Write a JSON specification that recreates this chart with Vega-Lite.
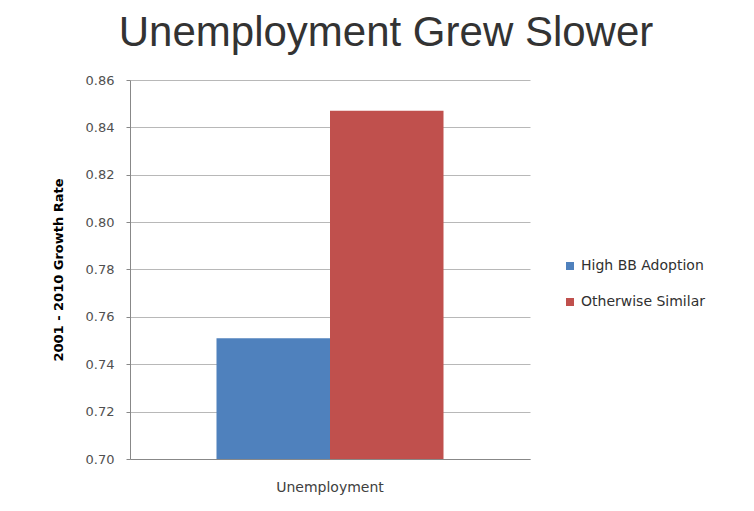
{
  "$schema": "https://vega.github.io/schema/vega-lite/v6.json",
  "width": 400,
  "height": 379,
  "autosize": "none",
  "padding": {"left": 130, "top": 80, "right": 224, "bottom": 52},
  "background": "white",
  "title": {
    "text": "Unemployment Grew Slower",
    "font": "Liberation Sans",
    "fontSize": 42,
    "fontWeight": "normal",
    "color": "#333333",
    "anchor": "middle",
    "dx": 56,
    "offset": 19
  },
  "data": {
    "values": [
      {"category": "Unemployment", "series": "High BB Adoption", "value": 0.751},
      {"category": "Unemployment", "series": "Otherwise Similar", "value": 0.847}
    ]
  },
  "mark": {"type": "bar", "clip": true},
  "encoding": {
    "x": {
      "field": "category",
      "type": "nominal",
      "scale": {"paddingInner": 0, "paddingOuter": 0.381},
      "axis": {
        "title": null,
        "labelAngle": 0,
        "ticks": false,
        "labelPadding": 21,
        "labelFont": "DejaVu Sans",
        "labelFontSize": 14,
        "labelColor": "#404040",
        "domainColor": "#888888"
      }
    },
    "xOffset": {
      "field": "series",
      "type": "nominal",
      "scale": {"paddingInner": 0, "paddingOuter": 0}
    },
    "y": {
      "field": "value",
      "type": "quantitative",
      "scale": {"domain": [0.70, 0.86], "zero": false, "nice": false},
      "axis": {
        "title": "2001 - 2010 Growth Rate",
        "titleFont": "DejaVu Sans",
        "titleFontSize": 13,
        "titleFontWeight": "bold",
        "titleColor": "#000000",
        "titlePadding": 20,
        "values": [0.70, 0.72, 0.74, 0.76, 0.78, 0.80, 0.82, 0.84, 0.86],
        "format": ".2f",
        "labelFont": "DejaVu Sans",
        "labelFontSize": 13,
        "labelColor": "#505050",
        "labelPadding": 12,
        "tickSize": 4,
        "tickColor": "#888888",
        "domainColor": "#888888",
        "gridColor": "#b8b8b8",
        "grid": true
      }
    },
    "color": {
      "field": "series",
      "type": "nominal",
      "scale": {"domain": ["High BB Adoption", "Otherwise Similar"], "range": ["#4F81BD", "#C0504D"]},
      "legend": {
        "title": null,
        "orient": "none",
        "legendX": 433,
        "legendY": 179,
        "symbolType": "square",
        "symbolSize": 64,
        "symbolStrokeWidth": 0,
        "rowPadding": 22,
        "labelFont": "DejaVu Sans",
        "labelFontSize": 14,
        "labelColor": "#303030",
        "labelOffset": 4
      }
    }
  },
  "config": {
    "view": {"stroke": null}
  }
}
